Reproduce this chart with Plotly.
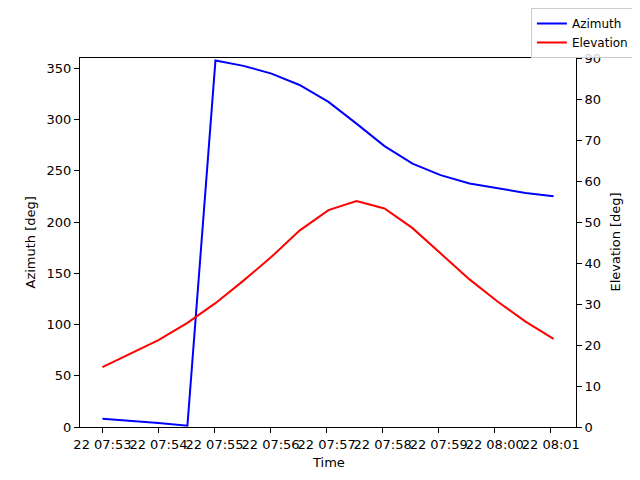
import plotly.graph_objects as go

times = ["2024-01-22 07:53:00", "2024-01-22 07:53:30", "2024-01-22 07:54:00", "2024-01-22 07:54:31",
         "2024-01-22 07:55:01", "2024-01-22 07:55:31", "2024-01-22 07:56:01", "2024-01-22 07:56:31",
         "2024-01-22 07:57:02", "2024-01-22 07:57:32", "2024-01-22 07:58:02", "2024-01-22 07:58:32",
         "2024-01-22 07:59:02", "2024-01-22 07:59:33", "2024-01-22 08:00:03", "2024-01-22 08:00:33",
         "2024-01-22 08:01:03"]
azimuth = [8.1, 6.2, 4.0, 1.3, 357.5, 352.3, 344.8, 333.7, 317.2, 296.0, 274.0, 257.0,
           245.7, 237.6, 232.7, 228.4, 225.2]
elevation = [14.6, 17.8, 21.2, 25.4, 30.2, 35.7, 41.5, 47.9, 52.9, 55.1, 53.3, 48.5,
             42.4, 36.0, 30.6, 25.7, 21.5]
tick_times = ["2024-01-22 07:53", "2024-01-22 07:54", "2024-01-22 07:55", "2024-01-22 07:56",
              "2024-01-22 07:57", "2024-01-22 07:58", "2024-01-22 07:59", "2024-01-22 08:00",
              "2024-01-22 08:01"]
x_range = ["2024-01-22 07:52:36", "2024-01-22 08:01:27"]

font = dict(family="DejaVu Sans", size=13, color="black")
legend_font = dict(family="DejaVu Sans", size=12, color="black")

fig = go.Figure()
fig.add_trace(go.Scatter(x=times, y=azimuth, mode="lines", name="Azimuth",
                         line=dict(color="blue", width=2), yaxis="y"))
fig.add_trace(go.Scatter(x=times, y=elevation, mode="lines", name="Elevation",
                         line=dict(color="red", width=2), yaxis="y2"))

axis_common = dict(showline=True, linecolor="black", linewidth=1, ticks="outside",
                   ticklen=5, tickcolor="black", showgrid=False, zeroline=False,
                   tickfont=font, automargin=False, tickangle=0)

fig.update_layout(
    width=640, height=480,
    margin=dict(l=72, r=72, t=50, b=61, autoexpand=False),
    paper_bgcolor="white", plot_bgcolor="white",
    font=font,
    xaxis=dict(type="date", range=x_range, tickvals=tick_times, tickformat="%d %H:%M",
               mirror=True, **axis_common),
    yaxis=dict(range=[0, 360], tickvals=[0, 50, 100, 150, 200, 250, 300, 350],
               **axis_common),
    yaxis2=dict(range=[0, 90], tickvals=list(range(0, 91, 10)), overlaying="y", side="right",
                **axis_common),
    legend=dict(xref="container", yref="container", x=0.978, xanchor="right",
                y=1.0, yanchor="top",
                bordercolor="#cccccc", borderwidth=1, bgcolor="rgba(255,255,255,0.8)",
                font=legend_font, tracegroupgap=0),
    showlegend=True,
)

fig.add_annotation(text="Time", xref="paper", yref="paper", x=0.5, y=0,
                   xanchor="center", yanchor="middle", yshift=-35, showarrow=False, font=font)
fig.add_annotation(text="Azimuth [deg]", xref="paper", yref="paper", x=0, y=0.5,
                   xanchor="center", yanchor="middle", xshift=-50, textangle=-90,
                   showarrow=False, font=font)
fig.add_annotation(text="Elevation [deg]", xref="paper", yref="paper", x=1, y=0.5,
                   xanchor="center", yanchor="middle", xshift=39, textangle=-90,
                   showarrow=False, font=font)

fig.write_html("out.html")
